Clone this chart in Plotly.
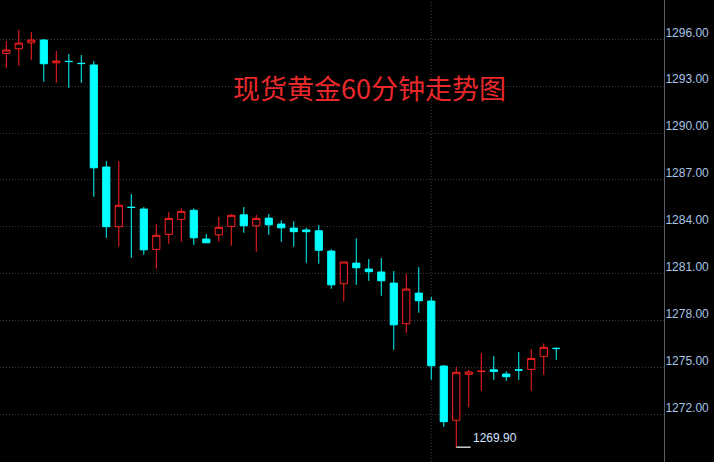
import plotly.graph_objects as go

# ---- data ----
idx = list(range(45))
opens = [1295.10, 1295.40, 1295.78, 1295.96, 1294.50, 1294.60, 1294.47, 1294.36, 1287.83, 1284.01,
         1285.26, 1285.14, 1282.56, 1283.52, 1284.48, 1285.06, 1283.22, 1283.49, 1284.03, 1284.77,
         1284.07, 1284.56, 1284.18, 1283.92, 1283.80, 1283.75, 1282.45, 1280.36, 1281.68, 1281.30,
         1281.11, 1280.40, 1277.80, 1279.76, 1279.25, 1275.09, 1271.62, 1274.56, 1274.74, 1274.85,
         1274.58, 1274.85, 1274.88, 1275.71, 1276.23]
highs = [1295.89, 1296.60, 1296.47, 1296.02, 1295.25, 1295.06, 1295.00, 1294.61, 1288.21, 1288.21,
         1286.10, 1285.27, 1284.18, 1284.95, 1285.18, 1285.18, 1283.54, 1284.63, 1284.82, 1285.27,
         1284.77, 1284.82, 1284.42, 1284.35, 1283.94, 1284.12, 1282.56, 1281.75, 1283.26, 1281.94,
         1282.00, 1281.17, 1280.98, 1281.43, 1279.51, 1275.16, 1275.03, 1274.84, 1275.92, 1275.73,
         1274.75, 1275.99, 1276.18, 1276.54, 1276.29]
lows = [1294.18, 1294.31, 1294.69, 1293.29, 1293.22, 1292.90, 1293.22, 1285.93, 1283.30, 1282.73,
        1282.02, 1282.21, 1281.32, 1282.92, 1283.05, 1282.85, 1282.98, 1283.05, 1282.79, 1283.62,
        1282.41, 1283.49, 1283.05, 1282.73, 1281.70, 1281.64, 1280.04, 1279.21, 1280.29, 1280.55,
        1279.59, 1276.13, 1277.22, 1278.50, 1274.21, 1271.21, 1269.90, 1272.45, 1273.51, 1274.21,
        1274.15, 1274.21, 1273.51, 1274.53, 1275.49]
closes = [1295.32, 1295.76, 1295.96, 1294.44, 1294.61, 1294.58, 1294.45, 1287.78, 1284.01, 1285.38,
          1285.24, 1282.53, 1283.46, 1284.54, 1284.99, 1283.30, 1282.98, 1283.97, 1284.74, 1284.07,
          1284.54, 1284.13, 1283.94, 1283.69, 1283.69, 1282.50, 1280.29, 1281.75, 1281.38, 1281.13,
          1280.55, 1277.73, 1280.02, 1279.27, 1275.11, 1271.53, 1274.69, 1274.71, 1274.76, 1274.75,
          1274.41, 1274.83, 1275.58, 1276.29, 1276.21]
tick_vals = [1272, 1275, 1278, 1281, 1284, 1287, 1290, 1293, 1296]
tick_text = ["%.2f" % v for v in tick_vals]
title_text = "现货黄金60分钟走势图"
low_label = "1269.90"
low_index = 36
low_value = 1269.90
separator_index = 34

GRID = "#3a3a3a"

fig = go.Figure()
fig.add_trace(go.Candlestick(
    x=idx, open=opens, high=highs, low=lows, close=closes,
    increasing=dict(line=dict(color="#ff2020", width=1), fillcolor="#000000"),
    decreasing=dict(line=dict(color="#00ffff", width=1), fillcolor="#00ffff"),
    whiskerwidth=0, hoverinfo="skip", showlegend=False,
))

# vertical separator line
fig.add_shape(type="line", xref="x", yref="paper", x0=separator_index, x1=separator_index,
              y0=0, y1=1, line=dict(color=GRID, width=1, dash="1px,2px"), layer="below")

# low marker line and label
fig.add_shape(type="line", xref="x", yref="y", x0=low_index, x1=low_index + 1.15,
              y0=low_value, y1=low_value, line=dict(color="#ffffff", width=1.2))
fig.add_annotation(x=low_index + 1.18, y=low_value, xref="x", yref="y", text=low_label,
                   showarrow=False, xanchor="left", yanchor="bottom",
                   font=dict(family="Liberation Sans", size=12, color="#d4e4ff"))

# title
fig.add_annotation(x=0.556, y=0.811, xref="paper", yref="paper", text=title_text,
                   showarrow=False, xanchor="center", yanchor="middle",
                   font=dict(family="Noto Sans CJK SC", size=27, color="#e8282a"))

fig.update_layout(
    width=714, height=462,
    margin=dict(l=0, r=50, t=0, b=0),
    paper_bgcolor="#000000", plot_bgcolor="#000000",
    boxgap=0.18,
    xaxis=dict(range=[-0.505, 52.62], visible=False, rangeslider=dict(visible=False),
               showgrid=False, zeroline=False),
    yaxis=dict(range=[1268.95, 1298.52], side="right", tickvals=tick_vals, ticktext=tick_text,
               showgrid=True, gridcolor=GRID, griddash="1px,2px", gridwidth=1,
               zeroline=False, showline=True, linecolor="#5a5f6a", linewidth=1,
               ticks="", ticklabelshift=-7, ticklabelstandoff=-2,
               tickfont=dict(family="Liberation Sans", size=12, color="#a8c4e6")),
)

fig.write_html("out.html", config={"displayModeBar": False, "staticPlot": True},
               post_script="document.body.style.margin='0';document.body.style.background='#000';")
